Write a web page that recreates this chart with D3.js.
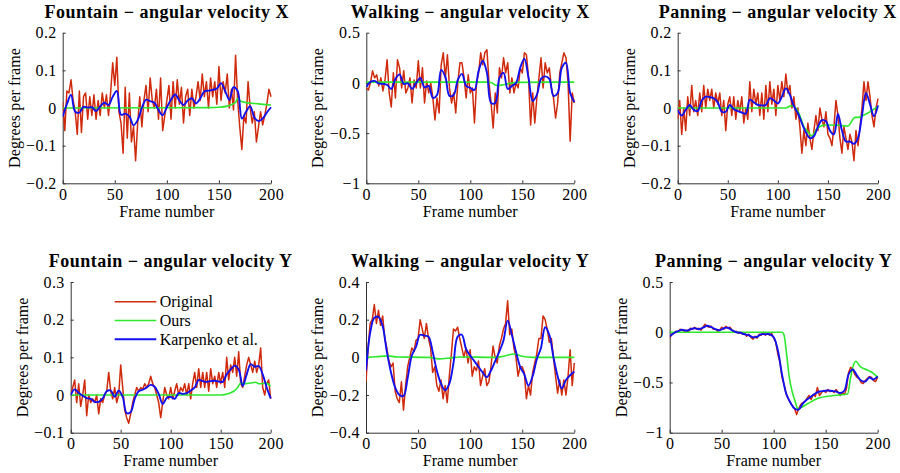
<!DOCTYPE html>
<html>
<head>
<meta charset="utf-8">
<script src="https://cdn.jsdelivr.net/npm/d3@7"></script>
<style>
  body { margin: 0; background: #fff; }
  svg text { font-family: "Liberation Serif", "Times New Roman", Times, serif; fill: #000; }
  .ttl { font-weight: bold; font-size: 18px; letter-spacing: 0.5px; }
  .tick text { font-size: 16px; letter-spacing: 0.4px; }
  .lab { font-size: 16px; letter-spacing: 0.1px; }
  .leg { font-size: 16px; }
</style>
</head>
<body>
<div id="root"></div>
<script>
// Original: one value every 2 frames, Karpenko: every 4 frames, Ours: [frame, value] breakpoints
const STEP_ORIG = 2, STEP_KARP = 4;
const xTicks = [0, 50, 100, 150, 200];
const seriesNames = ['Original', 'Ours', 'Karpenko et al.'];

// --- Fountain - angular velocity X
const fountainXOriginal = [0.015,-0.06,0.045,0.04,0.075,0.02,-0.01,-0.07,0.045,-0.065,
  0.03,0.04,-0.03,0.03,-0.02,0.035,-0.03,0.02,-0.02,0.04,
  0.0,0.035,-0.02,0.04,0.12,0.06,0.135,-0.01,-0.04,-0.12,
  0.055,-0.08,0.04,-0.09,-0.05,-0.14,-0.04,0.03,-0.05,0.02,
  0.06,-0.01,0.08,0.02,0.0,0.05,-0.03,0.08,-0.06,-0.02,
  0.02,0.06,-0.03,0.07,0.0,0.075,0.01,0.055,-0.04,0.03,
  0.05,-0.02,0.05,0.0,0.03,0.07,0.02,0.09,0.03,0.07,
  0.0,0.08,0.03,0.07,0.01,0.11,0.02,0.07,0.04,0.09,
  0.0,0.05,-0.005,0.14,0.02,-0.05,-0.11,-0.02,-0.04,0.07,
  0.0,-0.04,-0.01,-0.09,-0.05,-0.01,-0.045,-0.02,0.01,0.05,0.03];
const fountainXKarpenko = [-0.023,0.01,0.035,-0.01,-0.012,0.003,0.001,0.002,-0.008,0.004,
  0.014,0.008,0.03,0.045,-0.018,-0.015,-0.022,-0.046,-0.032,0.0,
  0.022,0.018,0.014,-0.005,-0.019,0.002,0.022,0.036,0.02,0.008,
  0.02,0.026,0.012,0.025,0.044,0.046,0.048,0.052,0.066,0.045,
  0.022,0.055,0.045,-0.028,-0.01,0.005,-0.025,-0.035,-0.028,-0.012,0.002];
const fountainXOurs = [[0,0],[140,0.001],[150,0.002],[158,0.005],[163,0.01],[166,0.015],[168,0.025],
  [171,0.018],[175,0.015],[185,0.012],[195,0.009],[200,0.008]];

// --- Walking - angular velocity X
const walkingXOriginal = [-0.05,-0.07,0.0,0.12,0.05,0.08,-0.03,0.05,-0.08,0.03,
  0.23,-0.1,-0.24,0.1,-0.15,0.23,0.15,-0.05,0.12,-0.1,
  -0.05,0.05,-0.2,0.03,-0.05,0.22,-0.05,0.15,-0.2,0.02,
  -0.1,0.0,-0.15,-0.37,-0.15,-0.3,0.18,0.3,0.05,0.28,
  -0.05,-0.2,-0.1,-0.3,0.0,0.2,0.2,0.05,-0.15,0.08,
  -0.1,-0.05,-0.4,0.0,0.1,0.3,0.18,0.3,0.33,0.0,
  -0.2,-0.45,-0.1,-0.3,0.15,0.05,0.25,0.1,0.2,-0.1,
  0.05,-0.1,0.0,-0.05,0.15,0.1,0.3,0.28,0.05,-0.42,
  -0.1,-0.4,-0.15,0.05,0.25,-0.05,0.2,0.1,0.15,-0.05,
  -0.15,-0.35,-0.2,0.1,0.2,0.3,0.25,0.0,-0.58,-0.1,-0.2];
const walkingXKarpenko = [-0.04,0.01,0.02,-0.005,-0.01,-0.02,-0.06,0.04,0.085,-0.01,
  -0.005,-0.06,0.0,0.05,-0.045,-0.03,-0.15,-0.12,0.13,0.06,
  -0.13,-0.12,0.03,0.09,-0.03,-0.05,-0.07,0.12,0.22,0.1,
  -0.2,-0.2,0.05,0.1,-0.06,-0.03,0.0,0.15,0.24,0.05,
  -0.18,-0.12,0.04,0.065,0.04,-0.13,-0.1,0.15,0.2,-0.1,-0.19];
const walkingXOurs = [[0,0.008],[115,0.008],[120,0.004],[125,-0.025],[130,-0.022],[138,-0.005],
  [145,0.005],[200,0.008]];

// --- Panning - angular velocity X
const panningXOriginal = [-0.03,0.02,-0.07,0.0,-0.06,0.03,-0.02,0.06,-0.01,0.02,
  -0.02,0.04,-0.01,0.06,0.0,0.05,0.02,0.05,0.0,0.04,
  0.01,0.04,-0.02,0.02,-0.06,0.01,0.03,-0.02,0.03,-0.03,
  0.02,-0.01,0.03,-0.04,0.0,-0.03,0.07,-0.01,0.05,0.01,
  0.04,-0.02,0.04,-0.03,0.06,-0.01,0.07,0.01,0.05,-0.02,
  0.06,0.02,0.07,0.03,0.09,0.04,0.06,0.0,0.03,-0.03,
  0.0,-0.05,-0.12,-0.06,-0.1,-0.04,-0.08,-0.11,-0.06,-0.02,
  -0.06,0.0,-0.03,-0.05,-0.01,-0.07,-0.08,-0.1,-0.05,0.02,
  -0.02,-0.08,-0.12,-0.05,-0.08,-0.11,-0.07,-0.09,-0.14,-0.06,
  -0.1,-0.05,0.0,0.07,0.02,0.07,0.03,-0.02,-0.05,0.0,0.025];
const panningXKarpenko = [-0.005,-0.02,-0.005,0.008,-0.005,-0.008,0.02,0.03,0.029,0.026,
  0.015,-0.01,-0.01,0.008,-0.003,-0.008,-0.012,-0.015,0.022,0.015,
  0.008,0.007,0.008,0.026,0.02,0.012,0.03,0.052,0.035,0.005,
  -0.014,-0.04,-0.065,-0.08,-0.075,-0.05,-0.032,-0.035,-0.06,-0.07,
  -0.016,-0.06,-0.089,-0.089,-0.095,-0.08,-0.02,0.04,0.01,-0.022,0.007];
const panningXOurs = [[0,0],[108,0],[112,0.005],[114,0.006],[118,0],[122,-0.02],[126,-0.05],
  [129,-0.06],[134,-0.074],[139,-0.055],[147,-0.045],[160,-0.046],[170,-0.048],[177,-0.025],
  [181,-0.025],[185,-0.02],[192,-0.01],[196,-0.003],[200,0.004]];

// --- Fountain - angular velocity Y
const fountainYOriginal = [0.0,0.02,0.04,-0.02,0.03,-0.03,0.0,0.04,-0.055,0.0,
  -0.02,-0.01,-0.02,0.0,-0.05,-0.01,-0.02,0.0,0.01,0.06,
  0.01,-0.01,0.02,-0.02,0.0,0.08,0.02,-0.04,-0.06,-0.075,
  -0.05,-0.02,0.0,0.02,0.01,0.02,0.015,0.03,0.02,0.03,
  0.05,0.03,0.02,0.0,-0.02,-0.06,-0.02,0.02,0.0,-0.01,
  0.02,-0.01,0.01,0.03,0.0,0.02,0.01,0.03,0.0,0.03,
  -0.01,0.03,0.06,0.02,0.07,0.02,0.06,0.02,0.06,0.01,
  0.07,0.03,0.05,0.02,0.06,0.03,0.06,0.02,0.1,0.04,
  0.08,0.06,0.1,0.05,0.115,0.03,0.02,0.05,0.08,0.1,
  0.08,0.06,0.09,0.06,0.08,0.125,0.02,0.0,0.03,0.04,-0.01];
const fountainYKarpenko = [0.0,0.015,0.006,-0.002,-0.008,-0.01,-0.018,-0.018,-0.009,0.01,
  0.012,-0.005,0.012,-0.005,-0.048,-0.045,-0.01,0.01,0.014,0.02,
  0.027,0.022,0.003,-0.024,-0.008,-0.005,-0.01,0.005,0.003,0.005,
  0.012,0.02,0.04,0.037,0.035,0.037,0.038,0.036,0.035,0.055,
  0.068,0.078,0.068,0.024,0.055,0.082,0.075,0.077,0.055,0.02,-0.009];
const fountainYOurs = [[0,0],[150,0],[158,0.004],[163,0.01],[167,0.02],[170,0.032],[175,0.03],
  [180,0.032],[185,0.034],[188,0.03],[192,0.03],[195,0.032],[200,0.024]];

// --- Walking - angular velocity Y
const walkingYOriginal = [-0.13,0.05,0.18,0.2,0.28,0.18,0.25,0.17,0.22,0.1,
  0.05,-0.02,-0.05,-0.03,-0.18,-0.22,-0.24,-0.13,-0.28,-0.15,
  -0.05,0.0,0.05,0.03,0.09,0.1,0.2,0.15,0.1,0.18,
  0.1,0.05,-0.08,-0.05,-0.15,-0.18,-0.12,-0.22,-0.15,-0.24,
  -0.1,0.02,0.15,0.14,0.16,0.1,0.05,0.0,0.05,-0.03,
  0.04,-0.1,-0.05,-0.07,-0.02,-0.15,-0.1,-0.06,-0.15,-0.13,
  -0.05,0.06,0.0,-0.03,0.06,0.1,0.15,0.18,0.3,0.12,
  0.15,0.05,0.0,-0.1,-0.05,-0.05,-0.08,-0.22,-0.15,-0.2,
  -0.08,-0.03,0.02,0.1,0.1,0.22,0.2,0.15,0.08,0.1,
  0.0,-0.1,-0.19,-0.12,-0.2,-0.12,-0.2,-0.1,0.04,-0.15,-0.03];
const walkingYKarpenko = [-0.07,0.13,0.21,0.215,0.165,0.03,-0.08,-0.16,-0.2,-0.205,
  -0.11,0.01,0.055,0.12,0.115,0.11,0.03,-0.07,-0.14,-0.175,
  -0.14,-0.03,0.11,0.12,0.045,0.01,-0.02,-0.05,-0.08,-0.105,
  -0.07,-0.02,0.03,0.09,0.195,0.12,0.03,-0.05,-0.09,-0.15,
  -0.1,-0.01,0.05,0.16,0.12,0.0,-0.1,-0.165,-0.12,-0.095,-0.075];
const walkingYOurs = [[0,0],[10,0.003],[20,0.008],[30,0.002],[60,0],[70,-0.008],[80,-0.004],
  [90,0.002],[125,0],[135,0.01],[142,0.018],[150,0.006],[160,0],[200,0]];

// --- Panning - angular velocity Y
const panningYOriginal = [-0.06,-0.02,-0.01,0.01,0.0,0.03,0.02,0.01,0.02,0.0,
  0.04,0.03,0.05,0.03,0.04,0.02,0.05,0.08,0.06,0.05,
  0.06,0.03,0.03,0.01,0.02,0.05,0.03,0.06,0.04,0.05,
  0.02,0.0,0.01,-0.01,0.0,-0.02,-0.01,-0.04,-0.02,-0.05,
  -0.07,-0.04,-0.06,-0.02,-0.03,0.0,-0.03,-0.01,-0.03,-0.01,
  -0.06,-0.1,-0.22,-0.3,-0.45,-0.52,-0.62,-0.66,-0.7,-0.73,
  -0.76,-0.82,-0.76,-0.72,-0.7,-0.69,-0.66,-0.63,-0.67,-0.62,
  -0.64,-0.55,-0.63,-0.6,-0.58,-0.6,-0.57,-0.59,-0.58,-0.6,
  -0.57,-0.6,-0.63,-0.6,-0.62,-0.56,-0.4,-0.35,-0.37,-0.42,
  -0.45,-0.46,-0.5,-0.51,-0.48,-0.46,-0.44,-0.45,-0.48,-0.49,-0.45];
const panningYKarpenko = [-0.04,-0.01,0.01,0.025,0.015,0.03,0.04,0.03,0.045,0.065,
  0.05,0.03,0.02,0.04,0.045,0.02,0.0,-0.005,-0.02,-0.03,
  -0.05,-0.045,-0.02,-0.02,-0.02,-0.05,-0.18,-0.42,-0.61,-0.7,
  -0.76,-0.77,-0.71,-0.67,-0.64,-0.61,-0.59,-0.585,-0.58,-0.585,
  -0.59,-0.605,-0.58,-0.42,-0.37,-0.43,-0.48,-0.49,-0.45,-0.47,-0.44];
const panningYOurs = [[0,0],[108,0],[110,-0.03],[112,-0.18],[115,-0.45],[118,-0.6],[121,-0.7],
  [123,-0.76],[126,-0.75],[133,-0.71],[142,-0.66],[158,-0.63],[171,-0.615],[174,-0.45],
  [176,-0.35],[179,-0.29],[183,-0.34],[191,-0.38],[197,-0.42],[200,-0.45]];

const panels = [
  { title: 'Fountain \u2212 angular velocity X', yDomain: [-0.2, 0.2], yTicks: [-0.2, -0.1, 0, 0.1, 0.2],
    orig: fountainXOriginal, ours: fountainXOurs, karp: fountainXKarpenko,
    box: { l: 62.7, r: 271, t: 32.7, b: 183.3 } },
  { title: 'Walking \u2212 angular velocity X', yDomain: [-1, 0.5], yTicks: [-1, -0.5, 0, 0.5],
    orig: walkingXOriginal, ours: walkingXOurs, karp: walkingXKarpenko,
    box: { l: 366.3, r: 574.3, t: 32.7, b: 183.3 } },
  { title: 'Panning \u2212 angular velocity X', yDomain: [-0.2, 0.2], yTicks: [-0.2, -0.1, 0, 0.1, 0.2],
    orig: panningXOriginal, ours: panningXOurs, karp: panningXKarpenko,
    box: { l: 677.7, r: 878, t: 32.7, b: 183.3 } },
  { title: 'Fountain \u2212 angular velocity Y', yDomain: [-0.1, 0.3], yTicks: [-0.1, 0, 0.1, 0.2, 0.3],
    orig: fountainYOriginal, ours: fountainYOurs, karp: fountainYKarpenko,
    box: { l: 70.7, r: 270.7, t: 282, b: 432.7 }, legend: true },
  { title: 'Walking \u2212 angular velocity Y', yDomain: [-0.4, 0.4], yTicks: [-0.4, -0.2, 0, 0.2, 0.4],
    orig: walkingYOriginal, ours: walkingYOurs, karp: walkingYKarpenko,
    box: { l: 366, r: 574.3, t: 282, b: 432.7 } },
  { title: 'Panning \u2212 angular velocity Y', yDomain: [-1, 0.5], yTicks: [-1, -0.5, 0, 0.5],
    orig: panningYOriginal, ours: panningYOurs, karp: panningYKarpenko,
    box: { l: 669.7, r: 877.7, t: 282, b: 432.7 } }
];

const colors = { orig: '#d02a0c', ours: '#2ee82e', karp: '#1010f0' };
const widths = { orig: 1.5, ours: 1.6, karp: 1.9 };
const FONT = '"Liberation Serif", "Times New Roman", Times, serif';

const W = 900, H = 473;
const svg = d3.select('#root').append('svg').attr('width', W).attr('height', H);
const fmt = d3.format('~g');

panels.forEach((p, pi) => {
  const b = p.box;
  const x = d3.scaleLinear().domain([0, 200]).range([b.l, b.r]);
  const y = d3.scaleLinear().domain(p.yDomain).range([b.b, b.t]);
  const g = svg.append('g').attr('font-family', FONT);

  // eixos (caixa aberta, ticks para dentro)
  const ax = g.append('g').attr('transform', `translate(0,${b.b})`)
    .call(d3.axisBottom(x).tickValues(xTicks).tickSizeInner(-3).tickSizeOuter(0).tickPadding(5).tickFormat(fmt));
  const ay = g.append('g').attr('transform', `translate(${b.l},0)`)
    .call(d3.axisLeft(y).tickValues(p.yTicks).tickSizeInner(-3).tickSizeOuter(0).tickPadding(6).tickFormat(fmt));
  [ax, ay].forEach(a => {
    a.attr('font-family', FONT).attr('font-size', 16);
    a.select('.domain').attr('stroke', '#333');
    a.selectAll('.tick line').attr('stroke', '#333');
    a.selectAll('.tick text').attr('fill', '#000');
  });

  const clipId = 'clip' + pi;
  g.append('clipPath').attr('id', clipId).append('rect')
    .attr('x', b.l).attr('y', b.t - 2).attr('width', b.r - b.l + 2).attr('height', b.b - b.t + 2);
  const plot = g.append('g').attr('clip-path', `url(#${clipId})`);

  const lineOrig = d3.line().x((d, i) => x(i * STEP_ORIG)).y(d => y(d));
  const lineKarp = d3.line().x((d, i) => x(i * STEP_KARP)).y(d => y(d)).curve(d3.curveCatmullRom.alpha(0.5));
  const lineOurs = d3.line().x(d => x(d[0])).y(d => y(d[1])).curve(d3.curveMonotoneX);

  plot.append('path').attr('d', lineOrig(p.orig)).attr('fill', 'none')
    .attr('stroke', colors.orig).attr('stroke-width', widths.orig).attr('stroke-linejoin', 'round');
  plot.append('path').attr('d', lineOurs(p.ours)).attr('fill', 'none')
    .attr('stroke', colors.ours).attr('stroke-width', widths.ours);
  plot.append('path').attr('d', lineKarp(p.karp)).attr('fill', 'none')
    .attr('stroke', colors.karp).attr('stroke-width', widths.karp);

  // títulos e rótulos
  g.append('text').attr('class', 'ttl').attr('x', (b.l + b.r) / 2).attr('y', b.t - 15)
    .attr('text-anchor', 'middle').text(p.title);
  g.append('text').attr('class', 'lab').attr('x', (b.l + b.r) / 2).attr('y', b.b + 33.5)
    .attr('text-anchor', 'middle').text('Frame number');
  g.append('text').attr('class', 'lab')
    .attr('transform', `translate(${b.l - 43},${(b.t + b.b) / 2}) rotate(-90)`)
    .attr('text-anchor', 'middle').text('Degrees per frame');

  if (p.legend) {
    const keys = ['orig', 'ours', 'karp'];
    keys.forEach((k, i) => {
      const ly = b.t + 19.7 + i * 18.8;
      g.append('line').attr('x1', b.l + 44).attr('x2', b.l + 85.6).attr('y1', ly).attr('y2', ly)
        .attr('stroke', colors[k]).attr('stroke-width', widths[k]);
      g.append('text').attr('class', 'leg').attr('x', b.l + 89).attr('y', ly).attr('dy', '0.35em')
        .text(seriesNames[i]);
    });
  }
});
</script>
</body>
</html>
